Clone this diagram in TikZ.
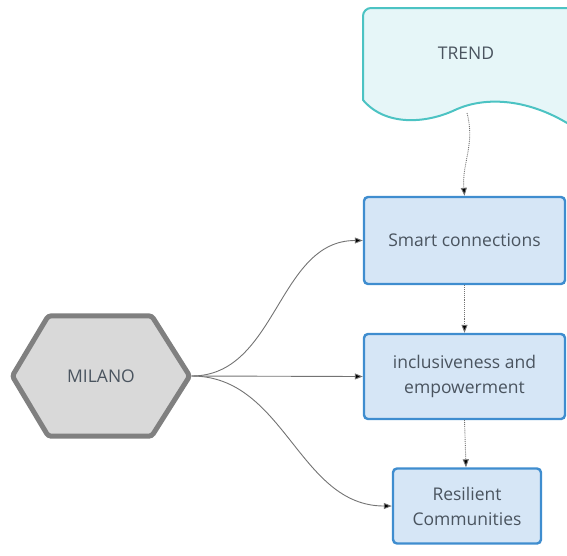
\documentclass[tikz,border=0pt]{standalone}
\usepackage{fontspec}
\setmainfont{Open Sans}
\usetikzlibrary{arrows.meta, positioning, backgrounds}
\definecolor{boxfill}{HTML}{D6E6F6}
\definecolor{boxline}{HTML}{3F8DCF}
\definecolor{trendfill}{HTML}{E6F6F8}
\definecolor{trendline}{HTML}{4CC3C3}
\definecolor{hexfill}{HTML}{D9D9D9}
\definecolor{hexline}{HTML}{808080}
\definecolor{txt}{HTML}{4A545F}

\begin{document}
\begin{tikzpicture}[x=1pt, y=-1pt,
        box/.style={rectangle, rounded corners=4pt, draw=boxline, line width=2.4pt,
                    fill=boxfill, align=center, text=txt,
                    font=\fontsize{17.5}{25}\selectfont, inner sep=0pt},
        lab/.style={text=txt, font=\fontsize{17.5}{25}\selectfont},
        link/.style={draw=black!55, line width=0.9pt,
                     -{Triangle[length=8pt, width=6pt, fill=black]}},
        flow/.style={link, densely dotted}]
      \useasboundingbox (0,0) rectangle (567,555);
      % trend document shape, runs off the right edge
      \filldraw[fill=trendfill, draw=trendline, line width=2pt]
        (363,100) -- (363,16) [rounded corners=8pt] -- (363,8) -- (580,8) [sharp corners]
        -- (580,130) -- (575,128)
        .. controls (530,98) and (485,96) .. (455,110)
        .. controls (425,124) and (385,126) .. (363,100) -- cycle;
      \node[lab] (trend) at (466,53) {TREND};
      \coordinate (trend-foot) at (467,113);
      % target boxes
      \node[box, minimum width=201pt, minimum height=87pt] (smart) at (464.5,240.5) {Smart connections};
      \node[box, minimum width=201pt, minimum height=85pt] (incl) at (464.5,376.5) {inclusiveness and\\empowerment};
      \node[box, minimum width=148pt, minimum height=75pt] (resil) at (467,506) {Resilient\\Communities};
      % milano hexagon
      \node[lab, minimum width=177pt, minimum height=120pt, inner sep=0pt] (milano) at (101,376) {MILANO};
      \begin{scope}[on background layer]
        \filldraw[fill=hexfill, draw=hexline, line width=5pt, rounded corners=3pt]
          (milano.west) -- ([xshift=36pt]milano.north west) -- ([xshift=-38pt]milano.north east)
          -- (milano.east) -- ([xshift=-38pt]milano.south east) -- ([xshift=36pt]milano.south west) -- cycle;
      \end{scope}
      % connectors
      \draw[flow] (trend-foot) to[out=-75, in=95] (smart.north);
      \draw[flow] (smart.south) -- (incl.north);
      \draw[flow] (incl.south) -- ([xshift=-1pt]resil.north);
      \draw[link] ([xshift=2pt]milano.east) to[out=0, in=180] (smart.west);
      \draw[link] ([xshift=2pt]milano.east) -- (incl.west);
      \draw[link] ([xshift=2pt]milano.east) to[out=0, in=180] (resil.west);
    \end{tikzpicture}
\end{document}
